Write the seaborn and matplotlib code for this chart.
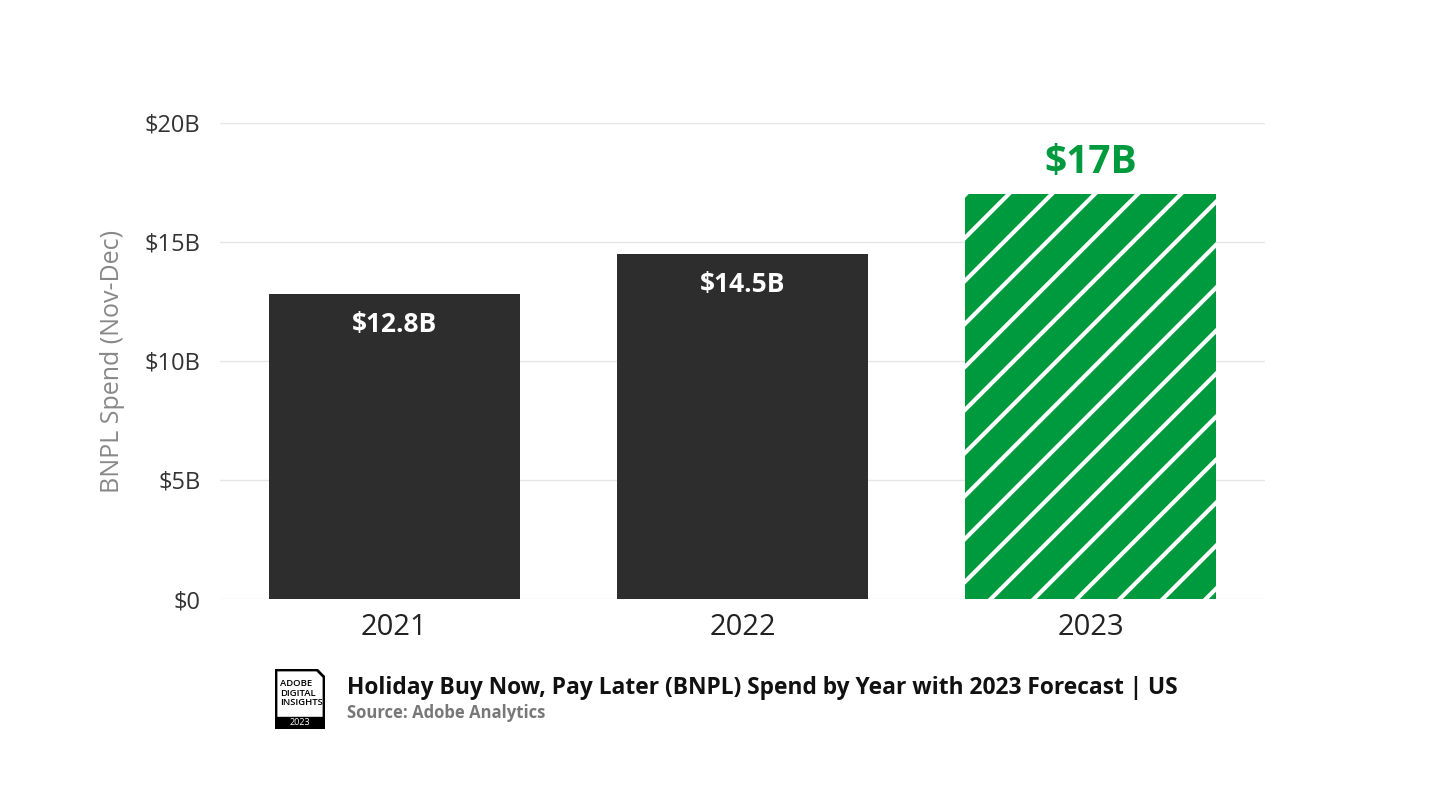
import matplotlib
matplotlib.use("Agg")
import matplotlib.pyplot as plt
import seaborn as sns
import pandas as pd
import numpy as np
from matplotlib.patches import Polygon, Rectangle
from matplotlib.lines import Line2D

years = ["2021", "2022", "2023"]
spend = [12.8, 14.5, 17.0]
labels = ["$12.8B", "$14.5B", "$17B"]
yticks = [0, 5, 10, 15, 20]
ytick_labels = ["$0", "$5B", "$10B", "$15B", "$20B"]

plt.rcParams["font.family"] = "Open Sans"

fig = plt.figure(figsize=(14.4, 8.11), dpi=100)
ax = fig.add_axes([0.1528, 0.2614, 0.7257, 0.587])
df = pd.DataFrame({"year": years, "spend": spend})
sns.barplot(data=df, x="year", y="spend", ax=ax, width=0.72,
            palette=["#2d2d2d", "#2d2d2d", "#009a3e"], hue="year", legend=False,
            saturation=1)
ax.set_xlim(-0.5, 2.5)
ax.set_ylim(0, 20)
fig.canvas.draw()

# diagonal white stripes on forecast bar, clipped to the bar
bar = ax.patches[2]
bb = bar.get_window_extent()
spacing = 43
for x0 in np.arange(bb.x0 - bb.height, bb.x1 + spacing, spacing):
    ln = Line2D([x0, x0 + bb.height + 20], [bb.y0, bb.y1 + 20], transform=None,
                color="white", linewidth=3.0)
    fig.add_artist(ln)
    ln.set_clip_path(bar.get_path(), bar.get_transform())

for i, (v, lab) in enumerate(zip(spend, labels)):
    if i < 2:
        ax.text(i, v - 0.7, lab, ha="center", va="top", color="white", fontsize=19, fontweight="bold")
    else:
        ax.text(i, v + 0.5, lab, ha="center", va="bottom", color="#009a3e", fontsize=28, fontweight="bold")

ax.set_yticks(yticks)
ax.set_yticklabels(ytick_labels, fontsize=17, color="#333333")
ax.tick_params(axis="x", labelsize=21, colors="#222222", length=0, pad=10)
ax.tick_params(axis="y", length=0, pad=14)
ax.grid(axis="y", color="#e6e6e6", linewidth=1)
ax.set_axisbelow(True)
for s in ax.spines.values():
    s.set_visible(False)
ax.set_xlabel("")
ax.set_ylabel("BNPL Spend (Nov-Dec)", fontsize=18, color="#888888", labelpad=14)

# logo
lax = fig.add_axes([275/1440, 1-729/811, 50/1440, 60/811])
lax.set_xlim(0, 50); lax.set_ylim(0, 60); lax.axis("off")
lax.add_patch(Polygon([[1, 1], [1, 59], [42, 59], [49, 52], [49, 1]], closed=True,
                      fill=False, edgecolor="black", linewidth=2))
lax.add_patch(Rectangle((1, 1), 48, 11, color="black"))
lax.text(25, 6.5, "2023", color="white", ha="center", va="center", fontsize=6.5)
lax.text(5, 36, "ADOBE\nDIGITAL\nINSIGHTS", ha="left", va="center", fontsize=6.8,
         linespacing=1.05, color="black", fontweight="semibold")

fig.text(347/1440, 1-688/811, "Holiday Buy Now, Pay Later (BNPL) Spend by Year with 2023 Forecast | US",
         fontsize=16.4, fontweight="bold", color="#111111", va="center")
fig.text(347/1440, 1-713/811, "Source: Adobe Analytics", fontsize=12, fontweight="bold",
         color="#777777", va="center")

fig.savefig("out.png", dpi=100)
